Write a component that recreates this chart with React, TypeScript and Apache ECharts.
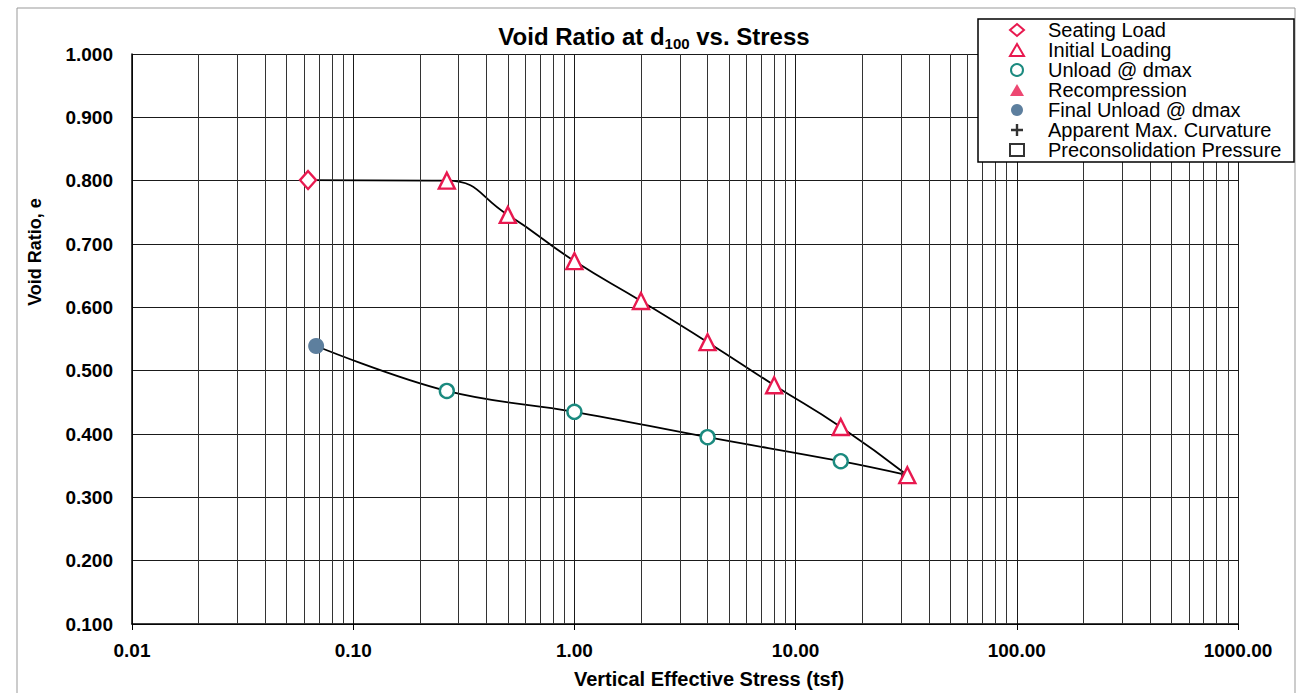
import React, { useEffect, useRef } from 'react';
import * as echarts from 'echarts';

// ---- data ----
const seatingLoad: number[][] = [[0.0625, 0.801]];
const initialLoading: number[][] = [
  [0.265, 0.8], [0.5, 0.746], [1, 0.673], [2, 0.61], [4, 0.545], [8, 0.477], [16, 0.411], [32, 0.335],
];
const unloadDmax: number[][] = [[16, 0.357], [4, 0.395], [1, 0.435], [0.265, 0.468]];
const finalUnload: number[][] = [[0.068, 0.539]];
const recompression: number[][] = [];
const maxCurvature: number[][] = [];
const preconsolidation: number[][] = [];

const xDecades = [0.01, 0.1, 1, 10, 100];
const minorMultipliers = [2, 3, 4, 5, 6, 7, 8, 9];
const legendNames = [
  'Seating Load',
  'Initial Loading',
  'Unload @ dmax',
  'Recompression',
  'Final Unload @ dmax',
  'Apparent Max. Curvature',
  'Preconsolidation Pressure',
];

const RED = '#e8194f';
const TEAL = '#1b8a7f';
const GREY = '#5d7f9e';
const FONT = '"Liberation Sans", Arial, sans-serif';
const PLUS = 'path://M4,0h2v4h4v2h-4v4h-2v-4h-4v-2h4z';

export default function App() {
  const ref = useRef<HTMLDivElement>(null);
  useEffect(() => {
    document.body.style.margin = '0';
    const chart = echarts.init(ref.current!, null, { renderer: 'svg' });
    const loadCurve = [...seatingLoad, ...initialLoading];
    const unloadCurve = [initialLoading[initialLoading.length - 1], ...unloadDmax, ...finalUnload];
    const minorLines = xDecades.flatMap((d) => minorMultipliers.map((m) => ({ xAxis: d * m })));

    chart.setOption({
      animation: false,
      backgroundColor: '#fff',
      textStyle: { fontFamily: FONT },
      title: {
        text: '{a|Void Ratio at d}{s|100}{a| vs. Stress}',
        left: 654,
        textAlign: 'center',
        top: 21,
        padding: 0,
        textStyle: {
          rich: {
            a: { fontSize: 24, fontWeight: 'bold', color: '#000', lineHeight: 30, fontFamily: FONT },
            s: { fontSize: 15, fontWeight: 'bold', color: '#000', lineHeight: 14, verticalAlign: 'bottom', fontFamily: FONT },
          },
        },
      },
      grid: { left: 132, right: 59, top: 54, bottom: 69, containLabel: false },
      xAxis: {
        type: 'log',
        logBase: 10,
        min: 0.01,
        max: 1000,
        splitNumber: 5,
        axisLine: { show: true, lineStyle: { color: '#000', width: 1.5 } },
        axisTick: { show: true, length: 6, inside: false, lineStyle: { color: '#000' } },
        axisLabel: {
          margin: 17,
          fontSize: 19,
          fontWeight: 'bold',
          color: '#000',
          fontFamily: FONT,
          formatter: (v: number) => v.toFixed(2),
        },
        splitLine: { show: true, lineStyle: { color: '#1a1a1a', width: 1 } },
      },
      yAxis: {
        type: 'value',
        min: 0.1,
        max: 1.0,
        interval: 0.1,
        axisLine: { show: true, lineStyle: { color: '#000', width: 1.5 } },
        axisTick: { show: false },
        axisLabel: {
          margin: 19,
          fontSize: 19,
          fontWeight: 'bold',
          color: '#000',
          fontFamily: FONT,
          formatter: (v: number) => v.toFixed(3),
        },
        splitLine: { show: true, lineStyle: { color: '#1a1a1a', width: 1 } },
      },
      legend: {
        data: legendNames,
        orient: 'vertical',
        left: 1009,
        top: 20,
        padding: 0,
        itemGap: 0,
        itemWidth: 14,
        itemHeight: 12,
        z: 10,
        selectedMode: false,
        textStyle: { fontSize: 20, lineHeight: 20, color: '#000', fontFamily: FONT, padding: [0, 0, 0, 19] },
      },
      graphic: [
        { type: 'rect', z: -10, silent: true, shape: { x: 17, y: 8, width: 1278, height: 700 }, style: { fill: 'none', stroke: '#999', lineWidth: 1 } },
        { type: 'rect', z: 9, silent: true, shape: { x: 978, y: 19, width: 316, height: 143 }, style: { fill: '#fff', stroke: '#000', lineWidth: 1.5 } },
        { type: 'text', z: 10, silent: true, x: 35, y: 252, rotation: Math.PI / 2, style: { text: 'Void Ratio, e', font: `bold 18px ${FONT}`, fill: '#000', align: 'center', verticalAlign: 'middle' } },
        { type: 'text', z: 10, silent: true, x: 709, y: 679, style: { text: 'Vertical Effective Stress (tsf)', font: `bold 20px ${FONT}`, fill: '#000', align: 'center', verticalAlign: 'middle' } },
      ],
      series: [
        {
          name: 'gridMinor',
          type: 'line',
          data: [],
          silent: true,
          markLine: {
            silent: true,
            symbol: 'none',
            label: { show: false },
            lineStyle: { color: '#333', width: 1, type: 'solid' },
            data: minorLines,
          },
          z: 0,
        },
        { name: 'loadCurve', type: 'line', data: loadCurve, smooth: 0.5, showSymbol: false, silent: true, lineStyle: { color: '#000', width: 1.8 }, z: 2 },
        { name: 'unloadCurve', type: 'line', data: unloadCurve, smooth: 0.4, showSymbol: false, silent: true, lineStyle: { color: '#000', width: 1.8 }, z: 2 },
        { name: 'Seating Load', type: 'scatter', data: seatingLoad, symbol: 'diamond', symbolSize: [16, 18], itemStyle: { color: '#fff', borderColor: RED, borderWidth: 2.4, opacity: 1 }, z: 5 },
        { name: 'Initial Loading', type: 'scatter', data: initialLoading, symbol: 'triangle', symbolSize: 16, itemStyle: { color: '#fff', borderColor: RED, borderWidth: 2.4, opacity: 1 }, z: 5 },
        { name: 'Unload @ dmax', type: 'scatter', data: unloadDmax, symbol: 'circle', symbolSize: 14, itemStyle: { color: '#fff', borderColor: TEAL, borderWidth: 2.4, opacity: 1 }, z: 5 },
        { name: 'Recompression', type: 'scatter', data: recompression, symbol: 'triangle', symbolSize: 13, itemStyle: { color: RED }, z: 5 },
        { name: 'Final Unload @ dmax', type: 'scatter', data: finalUnload, symbol: 'circle', symbolSize: 16, itemStyle: { color: GREY, opacity: 1 }, z: 5 },
        { name: 'Apparent Max. Curvature', type: 'scatter', data: maxCurvature, symbol: PLUS, symbolSize: 12, itemStyle: { color: '#000' }, z: 5 },
        { name: 'Preconsolidation Pressure', type: 'scatter', data: preconsolidation, symbol: 'rect', symbolSize: 11, itemStyle: { color: '#fff', borderColor: '#000', borderWidth: 1.6 }, z: 5 },
      ],
    });
    return () => chart.dispose();
  }, []);
  return <div ref={ref} style={{ width: 1297, height: 693 }} />;
}
